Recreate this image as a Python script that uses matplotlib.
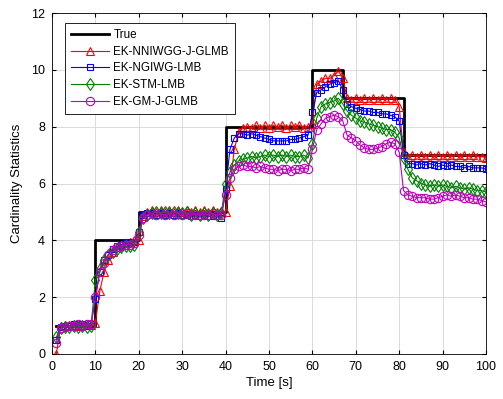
import numpy as np
import matplotlib
matplotlib.use('Agg')
import matplotlib.pyplot as plt

plt.rcParams['font.family'] = ['Liberation Sans', 'DejaVu Sans']

t = np.arange(1, 101)

true_card = [1]*9 + [4]*10 + [5]*20 + [8]*20 + [10]*7 + [9]*14 + [7]*20

nniwgg = [0.0, 1.0, 1.02, 1.0, 1.03, 1.0, 1.02, 1.04, 1.03,
          1.1, 2.2, 2.9, 3.3, 3.6, 3.75, 3.85, 3.9, 3.95, 4.0,
          4.0, 4.85, 5.0, 5.05, 4.98, 5.08, 5.0, 5.06, 4.98, 5.05,
          5.0, 5.07, 4.98, 5.05, 5.0, 5.06, 4.98, 5.05, 5.0, 5.03,
          5.0, 5.9, 7.2, 7.8, 7.95, 8.0, 7.95, 8.05, 7.95, 8.05,
          7.95, 8.05, 7.98, 8.05, 7.95, 8.05, 7.98, 8.05, 7.95, 8.0,
          8.1, 9.5, 9.6, 9.7, 9.7, 9.8, 9.95,
          9.7, 9.0, 8.95, 9.0, 8.95, 9.0, 8.95, 9.0, 8.95, 9.0, 8.95, 9.0, 8.95, 8.7,
          7.1, 6.95, 7.0, 6.95, 7.0, 6.95, 7.0, 6.95, 7.0, 6.95,
          7.0, 6.95, 7.0, 6.95, 7.0, 6.95, 7.0, 6.95, 6.95, 6.9]

ngiwg = [0.5, 0.95, 1.0, 1.0, 1.05, 1.0, 1.05, 1.0, 1.05,
         1.95, 2.9, 3.3, 3.5, 3.7, 3.8, 3.85, 3.9, 3.95, 3.95,
         4.3, 4.9, 4.95, 4.95, 4.9, 4.95, 4.9, 4.95, 4.9, 4.95,
         4.9, 4.9, 4.85, 4.9, 4.85, 4.9, 4.85, 4.85, 4.85, 4.8,
         5.8, 7.2, 7.6, 7.75, 7.75, 7.7, 7.75, 7.7, 7.65, 7.6,
         7.55, 7.5, 7.5, 7.5, 7.5, 7.55, 7.55, 7.6, 7.65, 7.7,
         8.5, 9.2, 9.3, 9.4, 9.5, 9.55, 9.6,
         9.3, 8.8, 8.7, 8.65, 8.6, 8.55, 8.55, 8.5, 8.5, 8.45, 8.45, 8.4, 8.35, 8.2,
         7.0, 6.7, 6.7, 6.65, 6.7, 6.65, 6.7, 6.65, 6.6, 6.65,
         6.6, 6.65, 6.6, 6.6, 6.55, 6.6, 6.55, 6.55, 6.55, 6.5]

stm = [0.6, 0.9, 0.95, 0.95, 1.0, 0.95, 1.0, 0.95, 1.0,
       2.6, 3.0, 3.3, 3.5, 3.6, 3.7, 3.75, 3.8, 3.8, 3.85,
       4.3, 4.8, 4.9, 4.95, 5.0, 4.95, 5.0, 4.95, 5.0, 4.95,
       4.95, 5.0, 4.9, 4.95, 4.9, 4.95, 4.9, 4.95, 4.9, 4.95,
       6.0, 6.4, 6.65, 6.8, 6.85, 6.9, 6.95, 6.9, 6.95, 7.0,
       6.95, 7.0, 6.95, 7.0, 6.95, 7.0, 6.95, 6.95, 7.0, 6.9,
       7.4, 8.3, 8.7, 8.8, 8.85, 8.9, 9.0,
       8.8, 8.55, 8.4, 8.3, 8.2, 8.15, 8.1, 8.05, 8.0, 7.95, 7.9, 7.9, 7.8, 7.6,
       6.9, 6.5, 6.2, 6.1, 6.0, 5.95, 5.9, 5.95, 5.9, 5.95,
       5.9, 5.85, 5.9, 5.85, 5.8, 5.85, 5.8, 5.75, 5.75, 5.7]

gm = [0.4, 0.9, 0.95, 1.0, 1.0, 1.05, 1.0, 1.05, 1.05,
      2.0, 2.9, 3.2, 3.5, 3.65, 3.75, 3.8, 3.85, 3.85, 3.9,
      4.2, 4.8, 4.9, 4.95, 4.9, 4.95, 4.9, 4.95, 4.9, 4.95,
      4.9, 4.95, 4.9, 4.9, 4.9, 4.9, 4.9, 4.95, 4.9, 4.9,
      5.6, 6.2, 6.5, 6.6, 6.65, 6.6, 6.6, 6.55, 6.6, 6.55,
      6.5, 6.5, 6.45, 6.5, 6.5, 6.45, 6.5, 6.5, 6.55, 6.5,
      7.2, 7.9, 8.1, 8.3, 8.35, 8.4, 8.35,
      8.2, 7.7, 7.6, 7.5, 7.35, 7.25, 7.2, 7.2, 7.25, 7.3, 7.4, 7.45, 7.4, 7.1,
      5.75, 5.6, 5.55, 5.5, 5.5, 5.5, 5.45, 5.45, 5.5, 5.55,
      5.6, 5.55, 5.6, 5.55, 5.5, 5.5, 5.45, 5.45, 5.4, 5.35]

fig = plt.figure(figsize=(5.03, 3.99), dpi=100)
ax = fig.add_axes([0.1034, 0.1128, 0.8628, 0.8546])

ax.plot(t, true_card, color='k', lw=2, drawstyle='steps-post', label='True')
ax.plot(t, nniwgg, color='r', lw=0.8, marker='^', ms=6, mfc='none', mew=0.8,
        label='EK-NNIWGG-J-GLMB')
ax.plot(t, ngiwg, color='b', lw=0.8, marker='s', ms=5, mfc='none', mew=0.8,
        label='EK-NGIWG-LMB')
ax.plot(t, stm, color=(0, 0.5, 0), lw=0.8, marker='d', ms=6, mfc='none', mew=0.8,
        label='EK-STM-LMB')
ax.plot(t, gm, color='m', lw=0.8, marker='o', ms=6, mfc='none', mew=0.8,
        label='EK-GM-J-GLMB')

ax.set_xlim(0, 100)
ax.set_ylim(0, 12)
ax.set_xticks(np.arange(0, 101, 10))
ax.set_yticks(np.arange(0, 13, 2))
ax.tick_params(direction='in', top=True, right=True, labelsize=9, length=3, pad=5)
ax.grid(True, color='#d6d6d6', lw=0.6)
ax.set_axisbelow(True)
for s in ax.spines.values():
    s.set_linewidth(0.6)

ax.set_xlabel('Time [s]', fontsize=9.5, labelpad=3)
ax.set_ylabel('Cardinality Statistics', fontsize=9.5, labelpad=6)

leg = ax.legend(loc='upper left', bbox_to_anchor=(0.03, 0.97), borderaxespad=0,
                fontsize=8.4, handlelength=3.3, labelspacing=0.4, fancybox=False,
                framealpha=1, edgecolor='k', borderpad=0.5, handletextpad=0.35)
leg.get_frame().set_linewidth(0.6)

fig.savefig('out.png', dpi=100)
